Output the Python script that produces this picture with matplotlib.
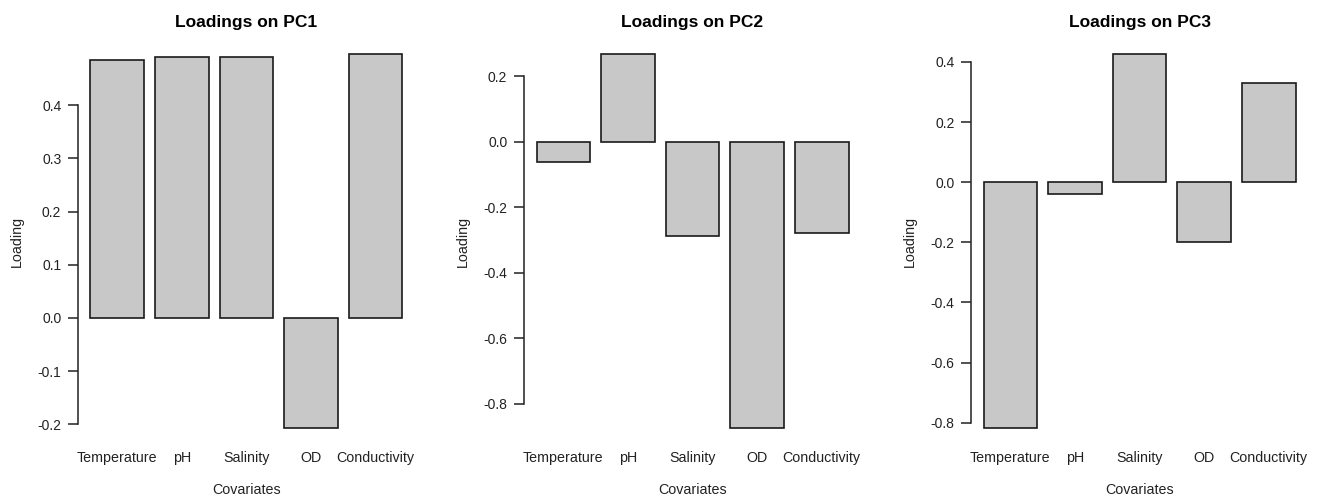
import matplotlib
matplotlib.use("Agg")
import matplotlib.pyplot as plt
import numpy as np

covariates = ["Temperature", "pH", "Salinity", "OD", "Conductivity"]
pc1 = [0.485, 0.491, 0.490, -0.207, 0.496]
pc2 = [-0.061, 0.267, -0.287, -0.875, -0.280]
pc3 = [-0.818, -0.038, 0.426, -0.199, 0.331]
titles = ["Loadings on PC1", "Loadings on PC2", "Loadings on PC3"]
yticks = [
    [-0.2, -0.1, 0.0, 0.1, 0.2, 0.3, 0.4],
    [-0.8, -0.6, -0.4, -0.2, 0.0, 0.2],
    [-0.8, -0.6, -0.4, -0.2, 0.0, 0.2, 0.4],
]

plt.rcParams['font.family'] = ['Liberation Sans', 'DejaVu Sans']
plt.rcParams['axes.unicode_minus'] = False

fig = plt.figure(figsize=(13.19, 4.98), dpi=100)
lefts = [0.0591, 0.3973, 0.7362]
W, H, B = 0.2555, 0.811, 0.1104

# R barplot layout: width 1, space 0.2
pos = 0.2 + np.arange(len(covariates)) * 1.2 + 0.5
xlo, xhi = 0.2, pos[-1] + 0.5
xpad = (xhi - xlo) * 0.04

for i, vals in enumerate([pc1, pc2, pc3]):
    ax = fig.add_axes([lefts[i], B, W, H])
    ax.bar(pos, vals, width=1.0, color='#c8c8c8', edgecolor='#1a1a1a', linewidth=1.2)
    ax.set_xlim(xlo - xpad, xhi + xpad)
    ymin, ymax = min(min(vals), 0), max(max(vals), 0)
    ypad = (ymax - ymin) * 0.04
    ax.set_ylim(ymin - ypad, ymax + ypad)

    for s in ['top', 'right', 'bottom']:
        ax.spines[s].set_visible(False)
    ax.spines['left'].set_bounds(yticks[i][0], yticks[i][-1])
    ax.spines['left'].set_color('#222222')
    ax.spines['left'].set_linewidth(1.1)
    ax.set_yticks(yticks[i])
    ax.set_yticklabels([f"{t:.1f}" for t in yticks[i]])
    ax.tick_params(axis='y', length=7, width=1.1, color='#222222', labelsize=10, pad=5,
                   labelcolor='#222222')
    ax.set_xticks(pos)
    ax.set_xticklabels(covariates)
    ax.tick_params(axis='x', length=0, labelsize=10.3, pad=6, labelcolor='#222222')

    ax.set_title(titles[i], fontsize=12.5, fontweight='bold', pad=9)
    ax.set_ylabel("Loading", fontsize=10.3, color='#222222')
    ax.yaxis.set_label_coords(-54 / 337, 0.5)
    ax.set_xlabel("Covariates", fontsize=10.3, color='#222222', labelpad=13)

fig.savefig("out.png", dpi=100, facecolor='white')
